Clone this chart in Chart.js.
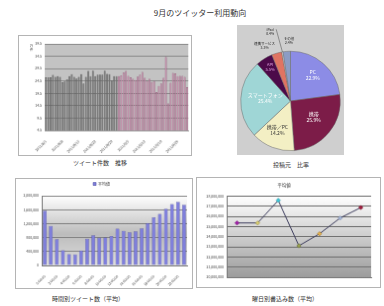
<!DOCTYPE html>
<html>
<head>
<meta charset="utf-8">
<script src="https://cdn.jsdelivr.net/npm/chart.js@4.4.0/dist/chart.umd.min.js"></script>
<style>
  body { margin: 0; width: 384px; height: 306px; background: #fff; position: relative; overflow: hidden;
         font-family: 'Noto Sans CJK JP', sans-serif; }
  canvas { position: absolute; }
  .framed { border: 1px solid #b4b4b4; }
  .cap { position: absolute; font-size: 6px; color: #333; transform: translateX(-50%); white-space: nowrap; }
  .unit { position: absolute; font-size: 3.5px; color: #555; writing-mode: vertical-rl; }
</style>
</head>
<body>
<div class="cap" style="left:200px; top:7px; font-size:8px;">9月のツイッター利用動向</div>

<canvas id="trendChart" class="framed" width="174" height="121" style="left:18px; top:35px;"></canvas>
<div class="unit" style="left:29px; top:44px;">万件</div>
<div class="cap" style="left:100px; top:158px;">ツイート件数　推移</div>

<canvas id="sourceChart" width="107" height="130" style="left:237px; top:25px; background:#cfcfcf;"></canvas>
<div class="cap" style="left:291px; top:160px;">投稿元　比率</div>

<canvas id="hourChart" class="framed" width="178" height="111" style="left:15px; top:178px;"></canvas>
<div class="cap" style="left:88px; top:294px;">時間別ツイート数（平均）</div>

<canvas id="weekdayChart" class="framed" width="185" height="111" style="left:196px; top:177px;"></canvas>
<div class="cap" style="left:285px; top:294px;">曜日別書込み数（平均）</div>

<script>
// ---- data ----
// daily tweets, unit 万件 (Aug = gray, Sep = pink)
const augustTweets = [26.0, 26.0, 26.0, 27.0, 26.2, 26.5, 26.2, 24.0, 24.3, 25.2,
  26.5, 27.3, 26.2, 25.5, 26.2, 27.3, 23.5, 26.2, 28.6, 26.5,
  28.7, 26.5, 27.1, 27.1, 27.1, 28.7, 27.4, 27.3, 24.7, 26.5, 26.5];
const septemberTweets = [26.5, 26.8, 28.0, 28.6, 26.6, 26.0, 25.4, 24.9, 26.3, 27.1,
  28.2, 25.8, 24.6, 25.4, 24.1, 24.5, 20.0, 22.5, 23.5, 25.8,
  34.2, 15.4, 23.8, 27.8, 27.6, 26.5, 26.6, 26.6, 26.2, 22.0];
const trendTicks = [4.5, 9.5, 14.5, 19.5, 24.5, 29.5, 34.5, 39.5];

const sourceLabels = ['PC', '携帯', '携帯／PC', 'スマートフォン', 'API', '連携サービス', 'iPad', 'その他'];
const sourceShares = [22.9, 25.9, 14.2, 25.4, 5.5, 3.3, 0.4, 2.4];

const hourLabels = ['0:00:00', '1:00:00', '2:00:00', '3:00:00', '4:00:00', '5:00:00', '6:00:00', '7:00:00',
  '8:00:00', '9:00:00', '10:00:00', '11:00:00', '12:00:00', '13:00:00', '14:00:00', '15:00:00',
  '16:00:00', '17:00:00', '18:00:00', '19:00:00', '20:00:00', '21:00:00', '22:00:00', '23:00:00'];
const hourAverages = [1572000, 1135000, 751000, 437000, 323000, 314000, 428000, 769000,
  865000, 795000, 803000, 847000, 1057000, 996000, 952000, 978000,
  1066000, 1214000, 1380000, 1476000, 1624000, 1764000, 1825000, 1738000];

const weekdayLabels = ['Mon', 'Tue', 'Wed', 'Thu', 'Fri', 'Sat', 'Sun'];
const weekdayAverages = [25350000, 25350000, 27580000, 23100000, 24290000, 25840000, 26870000];

// dates 2011/8/1 .. 2011/9/30
const trendDates = [];
for (let d = 1; d <= 31; d++) trendDates.push('2011/8/' + d);
for (let d = 1; d <= 30; d++) trendDates.push('2011/9/' + d);

const FONT = 'Noto Sans CJK JP';
Chart.defaults.font.family = FONT;
Chart.defaults.color = '#444';
Chart.defaults.animation = false;

// fills the plot area with a flat colour or a vertical gradient
const plotBg = {
  id: 'plotBg',
  beforeDraw(chart, args, opts) {
    const a = chart.chartArea;
    const ctx = chart.ctx;
    ctx.save();
    if (opts.stops) {
      const g = ctx.createLinearGradient(0, a.top, 0, a.bottom);
      opts.stops.forEach(s => g.addColorStop(s[0], s[1]));
      ctx.fillStyle = g;
    } else {
      ctx.fillStyle = opts.color || '#fff';
    }
    ctx.fillRect(a.left, a.top, a.right - a.left, a.bottom - a.top);
    ctx.restore();
  }
};

// ---- tweet count trend ----
new Chart(document.getElementById('trendChart'), {
  type: 'bar',
  plugins: [plotBg],
  data: {
    labels: trendDates,
    datasets: [{
      data: trendDates.map((d, i) => i < augustTweets.length ? augustTweets[i] : null),
      backgroundColor: '#717171', borderColor: '#444', borderWidth: 0.5,
      grouped: false, barPercentage: 0.8, categoryPercentage: 1
    }, {
      data: trendDates.map((d, i) => i >= augustTweets.length ? septemberTweets[i - augustTweets.length] : null),
      backgroundColor: '#c48aa8', borderColor: '#8a4c6e', borderWidth: 0.5,
      grouped: false, barPercentage: 0.8, categoryPercentage: 1
    }]
  },
  options: {
    responsive: false, devicePixelRatio: 1,
    layout: { padding: { top: 8, right: 1, left: 0, bottom: 0 } },
    plugins: { legend: { display: false }, tooltip: { enabled: false }, plotBg: { color: '#c3c3c3' } },
    scales: {
      x: {
        grid: { display: false }, border: { color: '#999' },
        afterFit: s => { s.height = 25; },
        ticks: {
          autoSkip: false, minRotation: 45, maxRotation: 45, padding: 1,
          font: { size: 3.5 },
          callback: function(v, i) { return i % 7 === 0 ? this.getLabelForValue(v) : ''; }
        }
      },
      y: {
        min: 4.5, max: 39.5,
        grid: { color: '#8a8a8a', drawTicks: false }, border: { display: false },
        afterFit: s => { s.width = 26; },
        afterBuildTicks: s => { s.ticks = trendTicks.map(v => ({ value: v })); },
        ticks: { font: { size: 3.5 }, padding: 3, callback: v => v.toFixed(1) }
      }
    }
  }
});

// ---- posting source pie ----
const labelStyle = [
  { k: 0.68, dx: 0, dy: 0, color: '#fff', size: 5 },
  { k: 0.6, dx: 0, dy: -3, color: '#fff', size: 5 },
  { k: 0.62, dx: -2, dy: 0, color: '#333', size: 5 },
  { k: 0.55, dx: 2, dy: -2, color: '#fff', size: 5 },
  { k: 0.78, dx: 0, dy: -1, color: '#e0a0e0', size: 4 },
  { k: 1.16, dx: -10, dy: 0, color: '#222', size: 3.5 },
  { k: 1.4, dx: -9, dy: -1, color: '#222', size: 3.5, leader: true },
  { k: 1.22, dx: 3, dy: 0, color: '#222', size: 3.5 }
];
const pieLabels = {
  id: 'pieLabels',
  afterDatasetsDraw(chart) {
    const ctx = chart.ctx;
    const meta = chart.getDatasetMeta(0);
    meta.data.forEach((arc, i) => {
      const st = labelStyle[i];
      const mid = (arc.startAngle + arc.endAngle) / 2;
      const x = arc.x + Math.cos(mid) * arc.outerRadius * st.k + st.dx;
      const y = arc.y + Math.sin(mid) * arc.outerRadius * st.k + st.dy;
      ctx.save();
      if (st.leader) {
        ctx.strokeStyle = '#444';
        ctx.lineWidth = 0.5;
        ctx.beginPath();
        ctx.moveTo(x + 6, y - 2);
        ctx.lineTo(arc.x + Math.cos(mid) * arc.outerRadius, arc.y + Math.sin(mid) * arc.outerRadius);
        ctx.stroke();
      }
      ctx.fillStyle = st.color;
      ctx.font = st.size + 'px "' + FONT + '"';
      ctx.textAlign = 'center';
      ctx.textBaseline = 'middle';
      ctx.fillText(chart.data.labels[i], x, y - st.size * 0.6);
      ctx.fillText(sourceShares[i].toFixed(1) + '%', x, y + st.size * 0.6);
      ctx.restore();
    });
  }
};
new Chart(document.getElementById('sourceChart'), {
  type: 'pie',
  plugins: [pieLabels],
  data: {
    labels: sourceLabels,
    datasets: [{
      data: sourceShares,
      backgroundColor: ['#8c8ce6', '#7c1c48', '#f3efc4', '#9fd6d6', '#4c0a4a', '#e07462', '#f4f4f4', '#8c9cc4'],
      borderColor: '#6a6a6a', borderWidth: 0.5
    }]
  },
  options: {
    responsive: false, devicePixelRatio: 1,
    layout: { padding: { top: 26, bottom: 4, left: 3, right: 3 } },
    plugins: { legend: { display: false }, tooltip: { enabled: false } }
  }
});

// ---- tweets by hour ----
new Chart(document.getElementById('hourChart'), {
  type: 'bar',
  plugins: [plotBg],
  data: {
    labels: hourLabels,
    datasets: [{
      label: '平均値',
      data: hourAverages,
      backgroundColor: '#7f7fdc', borderColor: '#40409a', borderWidth: 0.5,
      barPercentage: 0.62, categoryPercentage: 1
    }]
  },
  options: {
    responsive: false, devicePixelRatio: 1,
    layout: { padding: { top: 0, right: 5, left: 0, bottom: 0 } },
    plugins: {
      tooltip: { enabled: false },
      legend: { labels: { font: { size: 4 }, boxWidth: 3, boxHeight: 3, padding: 3, color: '#333' } },
      plotBg: { stops: [[0, '#ffffff'], [0.55, '#bcbcbc'], [1, '#dedede']] }
    },
    scales: {
      x: {
        grid: { display: false }, border: { color: '#777' },
        afterFit: s => { s.height = 23; },
        ticks: {
          autoSkip: false, minRotation: 45, maxRotation: 45, padding: 1,
          font: { size: 3.5 },
          callback: function(v, i) { return i % 2 === 0 ? this.getLabelForValue(v) : ''; }
        }
      },
      y: {
        min: 0, max: 2000000,
        grid: { color: '#808080', drawTicks: false }, border: { color: '#777' },
        afterFit: s => { s.width = 26; },
        ticks: { stepSize: 200000, font: { size: 3.5 }, padding: 3, callback: v => v.toLocaleString('en-US') }
      }
    }
  }
});

// ---- posts by weekday ----
new Chart(document.getElementById('weekdayChart'), {
  type: 'line',
  plugins: [plotBg],
  data: {
    labels: weekdayLabels,
    datasets: [{
      label: '平均値',
      data: weekdayAverages,
      borderColor: '#3e3e5e', borderWidth: 1, tension: 0,
      pointStyle: 'rectRot', pointRadius: 2.2, pointBorderWidth: 0.5,
      pointBackgroundColor: ['#a020a8', '#d8cc70', '#40c8d8', '#98a050', '#e0b050', '#a8b8d8', '#a01c40'],
      pointBorderColor: ['#701070', '#908840', '#208898', '#606830', '#a07020', '#7080a0', '#701020']
    }]
  },
  options: {
    responsive: false, devicePixelRatio: 1,
    layout: { padding: { top: 0, right: 9, left: 0, bottom: 0 } },
    plugins: {
      tooltip: { enabled: false },
      legend: { display: false },
      title: { display: true, text: '平均値', font: { size: 4.5, weight: 'normal' }, color: '#333',
               padding: { top: 5, bottom: 8 } },
      plotBg: { stops: [[0, '#ffffff'], [1, '#9c9c9c']] }
    },
    scales: {
      x: {
        offset: true,
        grid: { display: false }, border: { color: '#777' },
        afterFit: s => { s.height = 10; },
        ticks: { font: { size: 4 }, padding: 3 }
      },
      y: {
        min: 20000000, max: 28000000,
        grid: { color: '#6c6c6c', lineWidth: 1, drawTicks: false }, border: { color: '#777' },
        afterFit: s => { s.width = 30; },
        ticks: { stepSize: 1000000, font: { size: 3.5 }, padding: 3, callback: v => v.toLocaleString('en-US') }
      }
    }
  }
});
</script>
</body>
</html>
